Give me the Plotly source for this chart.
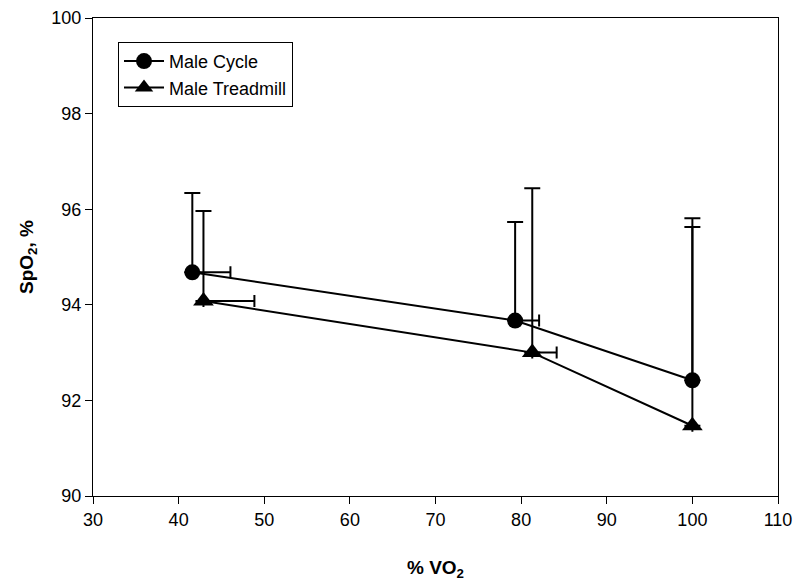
import plotly.graph_objects as go

# Data
cycle_x = [41.6, 79.3, 100.0]
cycle_y = [94.68, 93.67, 92.42]
cycle_err_y = [1.66, 2.06, 3.39]
cycle_err_x = [4.45, 2.8, 0.0]

tread_x = [42.9, 81.3, 100.0]
tread_y = [94.08, 93.0, 91.47]
tread_err_y = [1.88, 3.44, 4.16]
tread_err_x = [5.95, 2.85, 0.0]

x_ticks = [30, 40, 50, 60, 70, 80, 90, 100, 110]
y_ticks = [90, 92, 94, 96, 98, 100]

font_family = "Liberation Sans, Arial, sans-serif"

fig = go.Figure()

def add_series(name, xs, ys, ey, ex, symbol, msize):
    fig.add_trace(go.Scatter(
        x=xs, y=ys, name=name, mode="lines+markers",
        line=dict(color="black", width=2),
        marker=dict(symbol=symbol, size=msize, color="black"),
        error_y=dict(type="data", symmetric=False, array=ey,
                     arrayminus=[0] * len(ey), color="black",
                     thickness=2, width=8),
        error_x=dict(type="data", symmetric=False, array=ex,
                     arrayminus=[0] * len(ex), color="black",
                     thickness=2, width=6),
    ))

add_series("Male Cycle", cycle_x, cycle_y, cycle_err_y, cycle_err_x, "circle", 16)
add_series("Male Treadmill", tread_x, tread_y, tread_err_y, tread_err_x, "triangle-up", 18)

fig.update_layout(
    width=797, height=584,
    margin=dict(l=93, r=19, t=18, b=88),
    paper_bgcolor="white", plot_bgcolor="white",
    font=dict(family=font_family, color="black", size=18),
    showlegend=True,
    legend=dict(
        x=0.0365, y=0.95, xanchor="left", yanchor="top",
        bordercolor="black", borderwidth=1, bgcolor="white",
        font=dict(size=18, family=font_family),
        itemwidth=40, tracegroupgap=0,
    ),
    xaxis=dict(
        range=[30, 110], tickvals=x_ticks, ticks="outside", ticklen=7,
        tickcolor="black", showline=True, linecolor="black", linewidth=1,
        mirror=True, showgrid=False, zeroline=False, automargin=False,
        tickfont=dict(size=18),
        title=dict(text="<b>% VO<sub>2</sub></b>", font=dict(size=19), standoff=32),
    ),
    yaxis=dict(
        range=[90, 100], tickvals=y_ticks, ticks="outside", ticklen=7,
        tickcolor="black", showline=True, linecolor="black", linewidth=1,
        mirror=True, showgrid=False, zeroline=False, automargin=False,
        tickfont=dict(size=18),
        title=dict(text="<b>SpO<sub>2</sub>, %</b>", font=dict(size=19), standoff=12),
    ),
)

fig.write_html("out.html")
